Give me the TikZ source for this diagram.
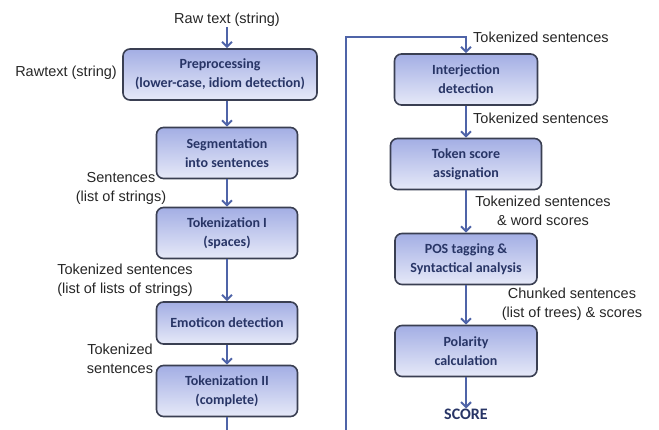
\documentclass[tikz,border=0pt]{standalone}
\usepackage{fontspec}
\setmainfont{Liberation Sans}
\newfontfamily\boxfont{Carlito}
\usepackage{xcolor}
\usetikzlibrary{arrows.meta}
\definecolor{boxtop}{HTML}{A3AEE4}
\definecolor{boxbot}{HTML}{E6E9F8}
\definecolor{boxline}{HTML}{3A3F52}
\definecolor{boxtext}{HTML}{283566}
\definecolor{flowline}{HTML}{4F64A8}
\definecolor{lbltext}{HTML}{262626}

\begin{document}
\begin{tikzpicture}[
    x=1pt, y=-1pt,
    procbox/.style={draw=boxline, line width=1.6pt, rounded corners=7pt,
        top color=boxtop, bottom color=boxbot, text=boxtext,
        font=\boxfont\bfseries\fontsize{14}{19}\selectfont,
        align=center, inner sep=0, minimum height=51pt},
    lbl/.style={font=\fontsize{14.5}{19}\selectfont, text=lbltext, align=center, inner sep=0},
    flow/.style={draw=flowline, line width=2pt, -{Straight Barb[length=5pt,width=10pt]}}]
\useasboundingbox (0,0) rectangle (659,430);
\clip (0,0) rectangle (659,430);

% left column
\node[procbox, minimum width=194pt] (prep)  at (220,74.5) {Preprocessing\\(lower-case, idiom detection)};
\node[procbox, minimum width=141pt] (segm)  at (227,153) {Segmentation\\into sentences};
\node[procbox, minimum width=141pt] (tokI)  at (227,233) {Tokenization I\\(spaces)};
\node[procbox, minimum width=141pt, minimum height=42pt] (emot) at (227,323) {Emoticon detection};
\node[procbox, minimum width=141pt] (tokII) at (227,391) {Tokenization II\\(complete)};

% right column
\node[procbox, minimum width=143pt] (interj)   at (466,79.5) {Interjection\\detection};
\node[procbox, minimum width=151pt] (tokscore) at (466,164) {Token score\\assignation};
\node[procbox, minimum width=142pt] (pos)      at (466,259) {POS tagging \&\\Syntactical analysis};
\node[procbox, minimum width=142pt] (polar)    at (466,351) {Polarity\\calculation};
\node[text=boxtext, font=\boxfont\bfseries\fontsize{16}{18}\selectfont, inner sep=0] (score) at (466,414) {SCORE};

% labels
\node[lbl] (raw) at (227,20) {Raw text (string)};
\node[lbl, anchor=east] (rawleft) at (117,73) {Rawtext (string)};
\node[lbl] (lsent) at (121,188) {Sentences\\(list of strings)};
\node[lbl] (ltok)  at (125,280) {Tokenized sentences\\(list of lists of strings)};
\node[lbl] (ltokb) at (120,359) {Tokenized\\sentences};
\node[lbl, anchor=west] (rtoka) at (473,37) {Tokenized sentences};
\node[lbl, anchor=west] (rtokb) at (473,118) {Tokenized sentences};
\node[lbl] (rtokc) at (543,211) {Tokenized sentences\\\& word scores};
\node[lbl] (chunk) at (572,304) {Chunked sentences\\(list of trees) \& scores};

\coordinate (turn) at (346,37);

\draw[flow] (raw) -- (raw |- prep.north);
\draw[flow] (prep.south -| segm.north) -- (segm);
\draw[flow] (segm) -- (tokI);
\draw[flow] (tokI) -- (emot);
\draw[flow] (emot) -- (tokII);
\draw[flow] (tokII.south) -- ++(0,40) -| (turn) -| (interj.north);
\draw[flow] (interj) -- (tokscore);
\draw[flow] (tokscore) -- (pos);
\draw[flow] (pos) -- (polar);
\draw[flow] (polar) -- (score);

\end{tikzpicture}
\end{document}
